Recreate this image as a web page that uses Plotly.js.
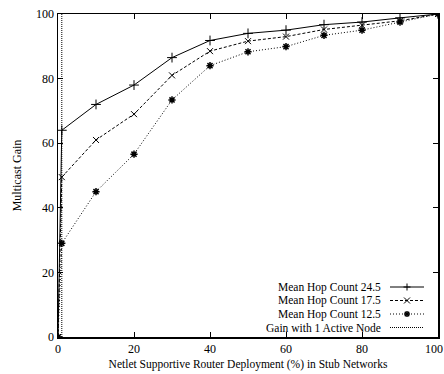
<!DOCTYPE html>
<html><head><meta charset="utf-8">
<script src="https://cdn.plot.ly/plotly-3.0.1.min.js"></script>
<style>html,body{margin:0;padding:0;background:#fff}#chart{width:444px;height:374px}</style>
</head><body><div id="chart"></div>
<script>
const deployment = [0, 1, 10, 20, 30, 40, 50, 60, 70, 80, 90, 100];
const hop245 = [0, 64, 72, 78, 86.5, 91.8, 94, 95, 96.7, 97.5, 98.8, 100];
const hop175 = [0, 49.5, 61, 69, 81, 88.5, 91.6, 93, 95.2, 96.5, 97.9, 100];
const hop125 = [0, 29, 45, 56.6, 73.4, 84, 88.3, 89.9, 93.4, 95, 97.5, 100];
const oneNodeX = [1, 1];
const oneNodeY = [0, 100];
const names = ["Mean Hop Count 24.5", "Mean Hop Count 17.5", "Mean Hop Count 12.5", "Gain with 1 Active Node"];
const xTicks = [0, 20, 40, 60, 80, 100];
const xTickText = ["0", "20", "40", "60", "80", "100"];
const yTicks = [0, 20, 40, 60, 80, 100];

const font = "Liberation Serif, Times New Roman, serif";
const W = 444, H = 374, M = {l: 58, r: 6, t: 14, b: 37};
const pw = W - M.l - M.r, ph = H - M.t - M.b;
const px = X => (X - M.l) / pw;
const py = Y => (H - M.b - Y) / ph;

const dashes = ["solid", "3px,2px", "1px,2px", "1px,1px"];
const traces = [
  {x: deployment, y: hop245, name: names[0], mode: "lines+markers",
   line: {color: "#000", width: 1, dash: dashes[0]},
   marker: {symbol: "cross-thin-open", size: 7, line: {color: "#000", width: 1}}},
  {x: deployment, y: hop175, name: names[1], mode: "lines+markers",
   line: {color: "#000", width: 1, dash: dashes[1]},
   marker: {symbol: "x-thin-open", size: 6, line: {color: "#000", width: 1}}},
  {x: deployment, y: hop125, name: names[2], mode: "lines+markers",
   line: {color: "#000", width: 1, dash: dashes[2]},
   marker: {symbol: "asterisk-open", size: 6, line: {color: "#000", width: 1.5}}},
  {x: oneNodeX, y: oneNodeY, name: names[3], mode: "lines",
   line: {color: "#000", width: 1, dash: dashes[3]}}
];

// custom legend (text left, sample right) in the reference's style
const rowY = [287, 300.5, 314, 327.5];
const textRight = 382, sx0 = 390, sx1 = 424, sxm = 407;
const annotations = [], shapes = [];
names.forEach((n, i) => {
  annotations.push({xref: "paper", yref: "paper", x: px(textRight), y: py(rowY[i]),
    xanchor: "right", yanchor: "middle", showarrow: false, text: n, borderpad: 0,
    font: {family: font, size: 11.5, color: "#000"}});
  shapes.push({type: "line", xref: "paper", yref: "paper",
    x0: px(sx0), x1: px(sx1), y0: py(rowY[i]), y1: py(rowY[i]),
    line: {color: "#000", width: 1, dash: dashes[i]}});
});
function glyph(i, segs) {
  segs.forEach(s => shapes.push({type: "line", xref: "paper", yref: "paper",
    xsizemode: "pixel", ysizemode: "pixel", xanchor: px(sxm), yanchor: py(rowY[i]),
    x0: s[0], y0: s[1], x1: s[2], y1: s[3], line: {color: "#000", width: s[4] || 1}}));
}
glyph(0, [[-3.5, 0, 3.5, 0], [0, -3.5, 0, 3.5]]);
glyph(1, [[-3, -3, 3, 3], [-3, 3, 3, -3]]);
glyph(2, [[-3, 0, 3, 0, 1.5], [0, -3, 0, 3, 1.5], [-2.2, -2.2, 2.2, 2.2, 1.5], [-2.2, 2.2, 2.2, -2.2, 1.5]]);

// last x tick label sits against the right edge so it stays fully visible
const lastLabel = xTickText[xTickText.length - 1];
const shownText = xTickText.slice(0, -1).concat([""]);
annotations.push({xref: "paper", yref: "paper", x: px(W), y: py(349),
  xanchor: "right", yanchor: "middle", showarrow: false, text: lastLabel, borderpad: 0,
  font: {family: font, size: 12, color: "#000"}});

const axisCommon = {
  showgrid: false, zeroline: false, showline: true, mirror: "ticks",
  linecolor: "#000", linewidth: 1.5, ticks: "inside", ticklen: 5,
  tickcolor: "#000", tickwidth: 1,
  tickfont: {family: font, size: 12, color: "#000"}
};
const layout = {
  width: W, height: H, margin: M,
  paper_bgcolor: "#fff", plot_bgcolor: "#fff",
  showlegend: false,
  xaxis: Object.assign({}, axisCommon, {range: [0, 100], tickmode: "array", tickvals: xTicks, ticktext: shownText,
    title: {text: "Netlet Supportive Router Deployment (%) in Stub Networks", font: {family: font, size: 11.5, color: "#000"}, standoff: 5}}),
  yaxis: Object.assign({}, axisCommon, {range: [0, 100], tickvals: yTicks,
    title: {text: "Multicast Gain", font: {family: font, size: 12, color: "#000"}, standoff: 12}}),
  annotations: annotations,
  shapes: shapes
};
Plotly.newPlot("chart", traces, layout, {displayModeBar: false, staticPlot: true});
</script></body></html>
